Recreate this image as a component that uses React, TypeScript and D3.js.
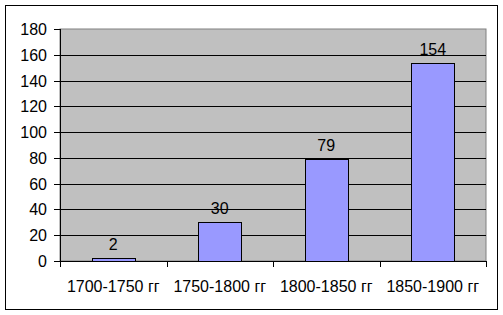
import React from "react";
import * as d3 from "d3";

const categories = ["1700-1750 гг", "1750-1800 гг", "1800-1850 гг", "1850-1900 гг"];
const values = [2, 30, 79, 154];
const yTicks = [0, 20, 40, 60, 80, 100, 120, 140, 160, 180];

export default function App() {
  const W = 503, H = 315;
  const left = 60, right = 486, top = 29, bottom = 261;
  const x = d3.scaleBand<string>().domain(categories).range([left, right]).paddingInner(0.6).paddingOuter(0.3);
  const band = d3.scaleBand<string>().domain(categories).range([left, right]);
  const y = d3.scaleLinear().domain([0, 180]).range([bottom, top]);
  const font = "'Liberation Sans', Arial, sans-serif";
  const fs = 16;
  return (
    <svg width={W} height={H} style={{ position: "fixed", left: 0, top: 0, background: "#fff" }}>
      <rect x={5.5} y={5.5} width={492} height={304} fill="#fff" stroke="#000" strokeWidth={1} />
      <rect x={left} y={top} width={right - left} height={bottom - top} fill="#C0C0C0" stroke="#808080" strokeWidth={1} />
      {yTicks.filter(t => t > 0 && t < 180).map(t => (
        <line key={t} x1={left} x2={right} y1={Math.round(y(t)) + 0.5} y2={Math.round(y(t)) + 0.5} stroke="#000" />
      ))}
      {categories.map((c, i) => {
        const bx = x(c)!;
        const by = y(values[i]);
        return (
          <g key={c}>
            <rect x={Math.round(bx) + 0.5} y={Math.round(by) + 0.5} width={Math.round(x.bandwidth())} height={Math.round(bottom - by)} fill="#9999FF" stroke="#000" />
            <text x={bx + x.bandwidth() / 2} y={by - 8} textAnchor="middle" fontFamily={font} fontSize={fs} fill="#000">{values[i]}</text>
            <text x={band(c)! + band.bandwidth() / 2} y={292} textAnchor="middle" fontFamily={font} fontSize={fs} fill="#000">{c}</text>
          </g>
        );
      })}
      <line x1={left + 0.5} x2={left + 0.5} y1={top} y2={bottom} stroke="#000" />
      <line x1={left} x2={right} y1={bottom + 0.5} y2={bottom + 0.5} stroke="#000" />
      {yTicks.map(t => (
        <g key={t}>
          <line x1={left - 6} x2={left} y1={Math.round(y(t)) + 0.5} y2={Math.round(y(t)) + 0.5} stroke="#000" />
          <text x={47} y={y(t) + 6} textAnchor="end" fontFamily={font} fontSize={fs} fill="#000">{t}</text>
        </g>
      ))}
      {[...categories.map(c => band(c)!), right].map((tx, i) => (
        <line key={i} x1={Math.round(tx) + 0.5} x2={Math.round(tx) + 0.5} y1={bottom} y2={bottom + 6} stroke="#000" />
      ))}
    </svg>
  );
}
